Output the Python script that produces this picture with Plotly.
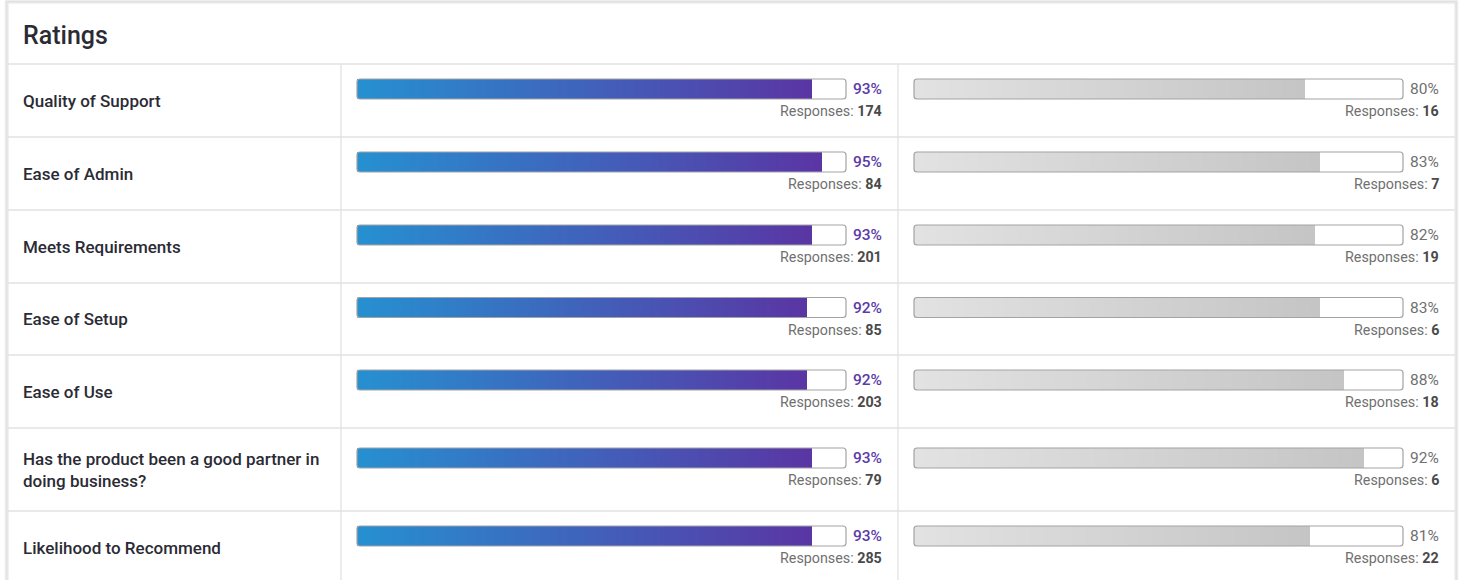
import numpy as np
import plotly.graph_objects as go

W, H = 1462, 580

# ---- data ----
categories = ["Quality of Support", "Ease of Admin", "Meets Requirements", "Ease of Setup",
              "Ease of Use", "Has the product been a good partner in<br>doing business?",
              "Likelihood to Recommend"]
left_pct = [93, 95, 93, 92, 92, 93, 93]
left_resp = [174, 84, 201, 85, 203, 79, 285]
right_pct = [80, 83, 82, 83, 88, 92, 81]
right_resp = [16, 7, 19, 6, 18, 6, 22]
title_text = "Ratings"

# ---- layout constants (pixels) ----
row_edges = [64, 137, 210, 283, 355, 428, 511, 584]
card_l, card_t, card_r, card_b = 8, 3, 1455, 640
col1, col2 = 341, 898
L0, L1 = 357, 846
R0, R1 = 914, 1403
BAR_H = 20
FONT = "Roboto"


def px(x):
    return x / W


fig = go.Figure()
shapes = []
annotations = []

# card shadow + card
for i, op in enumerate([0.10, 0.06, 0.03]):
    d = i + 1
    shapes.append(dict(type="rect", xref="paper", yref="y",
                       x0=px(card_l - d), x1=px(card_r + d), y0=card_t - d, y1=card_b,
                       line=dict(color=f"rgba(0,0,0,{op})", width=1.5), fillcolor="rgba(0,0,0,0)",
                       layer="below"))
shapes.append(dict(type="rect", xref="paper", yref="y", x0=px(card_l), x1=px(card_r),
                   y0=card_t, y1=card_b, line=dict(color="#e4e4e4", width=1),
                   fillcolor="white", layer="below"))

# grid lines
for y in row_edges[:-1]:
    shapes.append(dict(type="line", xref="paper", yref="y", x0=px(card_l), x1=px(card_r),
                       y0=y, y1=y, line=dict(color="#e2e2e2", width=1.3), layer="below"))
for x in (col1, col2):
    shapes.append(dict(type="line", xref="paper", yref="y", x0=px(x), x1=px(x),
                       y0=row_edges[0], y1=H + 10, line=dict(color="#e2e2e2", width=1.3),
                       layer="below"))


def rounded_path(x0, x1, y0, y1, r=3):
    a, b = px(x0), px(x1)
    rx = r / W
    return (f"M {a+rx},{y0} L {b-rx},{y0} Q {b},{y0} {b},{y0+r} L {b},{y1-r} "
            f"Q {b},{y1} {b-rx},{y1} L {a+rx},{y1} Q {a},{y1} {a},{y1-r} "
            f"L {a},{y0+r} Q {a},{y0} {a+rx},{y0} Z")


N = 120
for i, cat in enumerate(categories):
    top, bot = row_edges[i], row_edges[i + 1]
    cy = (top + bot) / 2
    bar_c = cy - 11.5
    y0, y1 = bar_c - BAR_H / 2, bar_c + BAR_H / 2
    resp_y = cy + 10.5

    # label
    annotations.append(dict(xref="paper", yref="y", x=px(21), y=cy, text=cat, showarrow=False,
                            xanchor="left", yanchor="middle", align="left",
                            font=dict(family=FONT, size=17, color="#2b2b35", weight=500)))

    for (vals, resps, xa, a0, a1, cs, pcol) in (
            (left_pct, left_resp, "x", L0, L1, [[0, "#2690d1"], [1, "#5a35a4"]], "#5b3ba8"),
            (right_pct, right_resp, "x2", R0, R1, [[0, "#e2e2e2"], [1, "#c5c5c5"]], "#707070")):
        v = vals[i]
        edges = np.linspace(0, v, N + 1)
        z = [np.linspace(0, 1, N).tolist()]
        fig.add_trace(go.Heatmap(x=edges, y=[y0, y1], z=z, xaxis=xa, yaxis="y",
                                 colorscale=cs, zmin=0, zmax=1, showscale=False,
                                 hoverinfo="skip"))
        shapes.append(dict(type="path", xref="paper", yref="y", path=rounded_path(a0, a1, y0, y1),
                           line=dict(color="#a3a3a3", width=1.2), fillcolor="rgba(0,0,0,0)"))
        right_edge = 884 if xa == "x" else 1441
        annotations.append(dict(xref="paper", yref="y", x=px(right_edge), y=bar_c,
                                text=f"{v}%", showarrow=False, xanchor="right", yanchor="middle",
                                font=dict(family=FONT, size=15.5, color=pcol,
                                          weight=500 if xa == "x" else 400)))
        annotations.append(dict(xref="paper", yref="y", x=px(right_edge), y=resp_y,
                                text=f"Responses: <span style='color:#4a4a4a;font-weight:bold'>{resps[i]}</span>",
                                showarrow=False, xanchor="right", yanchor="middle",
                                font=dict(family=FONT, size=14.3, color="#707070")))

annotations.append(dict(xref="paper", yref="y", x=px(21), y=35, text=title_text, showarrow=False,
                        xanchor="left", yanchor="middle",
                        font=dict(family=FONT, size=25, color="#2b2b35", weight=500)))

fig.update_layout(
    width=W, height=H, margin=dict(l=0, r=0, t=0, b=0),
    paper_bgcolor="white", plot_bgcolor="rgba(0,0,0,0)",
    showlegend=False,
    xaxis=dict(domain=[px(L0), px(L1)], range=[0, 100], visible=False, fixedrange=True),
    xaxis2=dict(domain=[px(R0), px(R1)], range=[0, 100], visible=False, fixedrange=True,
                anchor="y"),
    yaxis=dict(domain=[0, 1], range=[H, 0], visible=False, fixedrange=True),
    shapes=shapes, annotations=annotations,
)

fig.write_html("out.html", config={"displayModeBar": False},
               post_script="document.body.style.margin='0';document.body.style.overflow='hidden';")
